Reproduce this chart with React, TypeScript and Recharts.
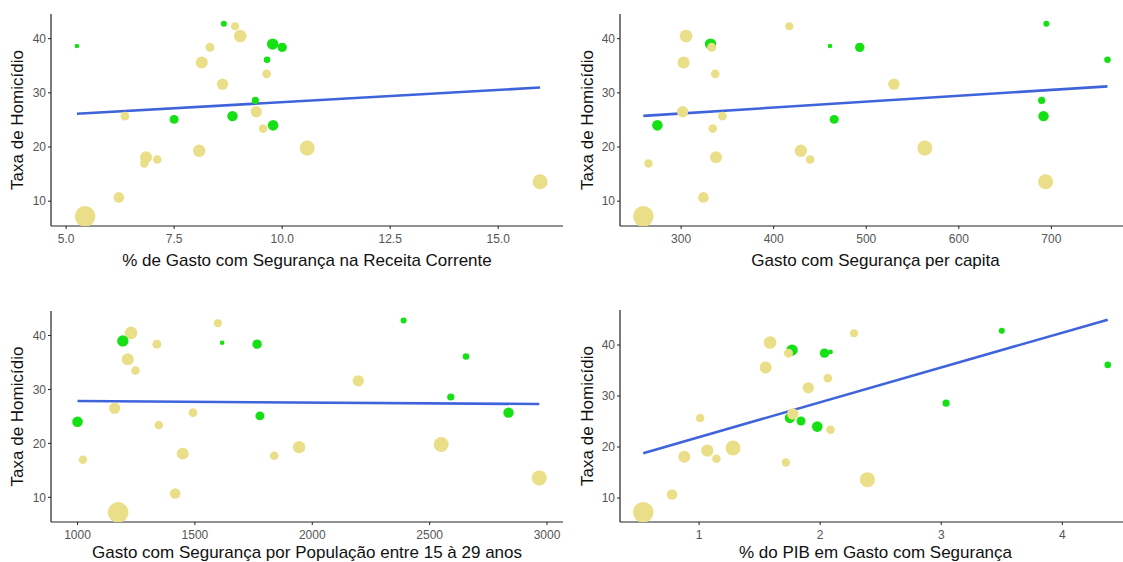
import { ScatterChart, Scatter, XAxis, YAxis, ZAxis, Cell, ReferenceLine } from 'recharts'

// one entry per state, same order in every array
const taxaHomicidio = [
  38.65, 42.77, 42.3, 40.5, 39.0, 38.4, 38.4, 36.1, 35.6, 33.5, 31.6, 28.6, 25.7,
  26.5, 25.7, 25.1, 23.4, 24.0, 19.3, 19.8, 18.1, 17.7, 16.95, 10.7, 7.2, 13.6,
]
const tamanho = [
  2.2, 3.8, 6.7, 16.6, 13.5, 9.2, 8.4, 4.5, 15, 7.7, 13.5, 5.4, 11.3,
  13.5, 7.7, 8.4, 7.7, 11.7, 16, 23.5, 15, 7.7, 7.4, 11.7, 44.2, 23.5,
]
const grupo = [
  1, 1, 0, 0, 1, 1, 0, 1, 0, 0, 0, 1, 1,
  0, 0, 1, 0, 1, 0, 0, 0, 0, 0, 0, 0, 0,
]
const pctReceita = [
  5.25, 8.65, 8.91, 9.03, 9.78, 10.0, 8.33, 9.65, 8.14, 9.64, 8.62, 9.38, 8.85,
  9.4, 6.36, 7.5, 9.56, 9.79, 8.08, 10.58, 6.85, 7.11, 6.81, 6.22, 5.44, 15.97,
]
const perCapita = [
  460.8, 694.6, 416.9, 305.4, 331.8, 493, 333, 760.6, 302.7, 336.9, 529.9, 689.5, 691.5,
  301.6, 344.7, 465.4, 334.2, 274.4, 429.3, 563.3, 337.7, 439.4, 264.7, 324.1, 259.2, 693.8,
]
const porJovem = [
  1616, 2389, 1598, 1228, 1193, 1765, 1338, 2655, 1214, 1247, 2196, 2590, 2836,
  1158, 1492, 1777, 1346, 1000, 1944, 2549, 1448, 1838, 1023, 1416, 1173, 2967,
]
const pctPIB = [
  2.086, 3.5, 2.28, 1.586, 1.768, 2.036, 1.738, 4.375, 1.55, 2.063, 1.902, 3.04, 1.75,
  1.774, 1.009, 1.842, 2.086, 1.976, 1.068, 1.28, 0.878, 1.143, 1.717, 0.777, 0.539, 2.39,
]

// fitted line endpoints [x0, y0, x1, y1]
const fitReceita = [5.25, 26.15, 15.97, 30.97]
const fitPerCapita = [259.2, 25.75, 760.6, 31.2]
const fitJovem = [1000, 27.85, 2967, 27.3]
const fitPIB = [0.539, 18.8, 4.375, 44.97]

const COR = ['#EBDE88', '#14E014']
const FONT = 'Liberation Sans, Arial, sans-serif'
const TICK = { fill: '#555', fontSize: 12, fontFamily: FONT }
const TITLE = { fill: '#111', fontSize: 17, fontFamily: FONT }

interface PanelProps {
  left: number
  top: number
  width: number
  height: number
  bottom: number
  yWidth: number
  yTitleX: number
  xs: number[]
  xTicks: number[]
  xDomain: [number, number]
  yDomain: [number, number]
  xTitle: string
  titleOffset: number
  fit: number[]
  fmt?: (v: number) => string
}

function Panel({ left, top, width, height, bottom, yWidth, yTitleX, xs, xTicks, xDomain, yDomain, xTitle, titleOffset, fit, fmt }: PanelProps) {
  const data = xs.map((x, i) => ({ x, y: taxaHomicidio[i], z: tamanho[i], g: grupo[i] }))
  return (
    <div style={{ position: 'absolute', left, top }}>
      <ScatterChart width={width} height={height} margin={{ top: 14, right: 4, bottom, left: 0 }}>
        <XAxis
          type="number"
          dataKey="x"
          domain={xDomain}
          ticks={xTicks}
          allowDataOverflow
          tickFormatter={fmt}
          tick={TICK}
          tickSize={3}
          tickMargin={5}
          height={40}
          axisLine={{ stroke: '#222', strokeWidth: 1.2 }}
          tickLine={{ stroke: '#222' }}
          label={{ value: xTitle, position: 'insideBottom', offset: titleOffset, style: TITLE }}
        />
        <YAxis
          type="number"
          dataKey="y"
          domain={yDomain}
          ticks={[10, 20, 30, 40]}
          allowDataOverflow
          tick={TICK}
          tickSize={3}
          width={yWidth}
          axisLine={{ stroke: '#222', strokeWidth: 1.2 }}
          tickLine={{ stroke: '#222' }}
          label={{ value: 'Taxa de Homicídio', angle: -90, position: 'insideLeft', offset: yTitleX, style: { ...TITLE, textAnchor: 'middle' } }}
        />
        <ZAxis type="number" dataKey="z" domain={[0, 46]} range={[0, 346]} />
        <Scatter data={data} isAnimationActive={false}>
          {data.map((d, i) => (
            <Cell key={i} fill={COR[d.g]} />
          ))}
        </Scatter>
        <ReferenceLine
          segment={[{ x: fit[0], y: fit[1] }, { x: fit[2], y: fit[3] }]}
          stroke="#3F63DB"
          strokeWidth={2.6}
          ifOverflow="visible"
        />
      </ScatterChart>
    </div>
  )
}

export default function App() {
  return (
    <div style={{ position: 'absolute', left: 0, top: 0, width: 1123, height: 562, overflow: 'hidden', background: '#fff' }}>
      <Panel
        left={0} top={0} width={567} height={280} bottom={14} yWidth={51} yTitleX={17}
        xs={pctReceita} xTicks={[5, 7.5, 10, 12.5, 15]} xDomain={[4.65, 16.5]} yDomain={[5.42, 44.55]}
        xTitle="% de Gasto com Segurança na Receita Corrente" titleOffset={0} fit={fitReceita} fmt={(v) => v.toFixed(1)}
      />
      <Panel
        left={560} top={0} width={575} height={280} bottom={14} yWidth={60} yTitleX={27}
        xs={perCapita} xTicks={[300, 400, 500, 600, 700]} xDomain={[234, 786]} yDomain={[5.42, 44.55]}
        xTitle="Gasto com Segurança per capita" titleOffset={0} fit={fitPerCapita}
      />
      <Panel
        left={0} top={297} width={567} height={265} bottom={0} yWidth={51} yTitleX={17}
        xs={porJovem} xTicks={[1000, 1500, 2000, 2500, 3000]} xDomain={[887, 3068]} yDomain={[5.42, 44.55]}
        xTitle="Gasto com Segurança por População entre 15 à 29 anos" titleOffset={4} fit={fitJovem}
      />
      <Panel
        left={560} top={296} width={575} height={266} bottom={0} yWidth={60} yTitleX={27}
        xs={pctPIB} xTicks={[1, 2, 3, 4]} xDomain={[0.347, 4.567]} yDomain={[5.3, 46.86]}
        xTitle="% do PIB em Gasto com Segurança" titleOffset={4} fit={fitPIB}
      />
    </div>
  )
}
